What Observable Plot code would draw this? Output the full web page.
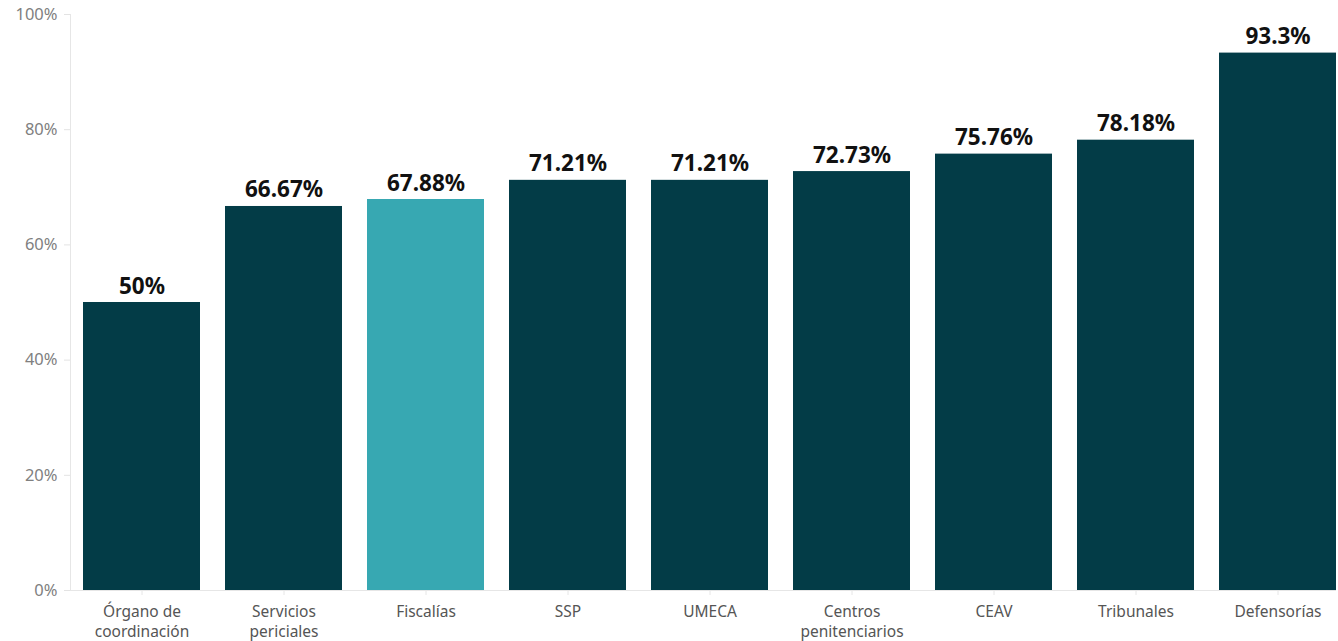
<!DOCTYPE html>
<html>
<head>
<meta charset="utf-8">
<script src="https://cdn.jsdelivr.net/npm/d3@7"></script>
<script src="https://cdn.jsdelivr.net/npm/@observablehq/plot@0.6"></script>
<style>
  html, body { margin: 0; padding: 0; background: #fff; }
  svg { display: block; }
</style>
</head>
<body>
<div id="chart"></div>
<script>
const categories = ["Órgano de\ncoordinación", "Servicios\npericiales", "Fiscalías", "SSP", "UMECA", "Centros\npenitenciarios", "CEAV", "Tribunales", "Defensorías"];
const values = [50, 66.67, 67.88, 71.21, 71.21, 72.73, 75.76, 78.18, 93.3];
const valueLabels = ["50%", "66.67%", "67.88%", "71.21%", "71.21%", "72.73%", "75.76%", "78.18%", "93.3%"];
const highlighted = ["Fiscalías"];
const yTicks = [0, 20, 40, 60, 80, 100];

const data = categories.map((c, i) => ({
  category: c,
  value: values[i],
  label: valueLabels[i],
  hi: highlighted.includes(c)
}));

const font = "'Source Sans Pro', 'Noto Sans', Lato, sans-serif";

const chart = Plot.plot({
  width: 1338,
  height: 641,
  marginTop: 14,
  marginBottom: 51,
  marginLeft: 70,
  marginRight: 2,
  style: { fontFamily: font, background: "#fff" },
  x: {
    domain: categories,
    paddingInner: 0.176,
    paddingOuter: 0.044,
    align: 1,
    label: null
  },
  y: { domain: [0, 100], label: null },
  marks: [
    Plot.frame({ anchor: "left", stroke: "#e6e6e6" }),
    Plot.ruleY([0], { stroke: "#e6e6e6", strokeWidth: 1 }),
    Plot.axisY({
      ticks: yTicks,
      tickFormat: d => d + "%",
      tickSize: 6,
      tickPadding: 7,
      stroke: "#e3e3e3",
      color: "#808080",
      fontSize: 16.5,
      fontFamily: font
    }),
    Plot.axisX({
      tickSize: 5,
      tickPadding: 8,
      stroke: "#e6e6e6",
      color: "#555",
      fontSize: 15.5,
      fontFamily: font,
      lineHeight: 1.25
    }),
    Plot.barY(data, {
      x: "category",
      y: "value",
      fill: d => d.hi ? "#37a8b2" : "#033c47"
    }),
    Plot.text(data, {
      x: "category",
      y: "value",
      text: "label",
      lineAnchor: "bottom",
      dy: -9,
      fontSize: 22.5,
      fontWeight: "bold",
      fill: "#111",
      fontFamily: font
    })
  ]
});

document.getElementById("chart").appendChild(chart);
</script>
</body>
</html>
